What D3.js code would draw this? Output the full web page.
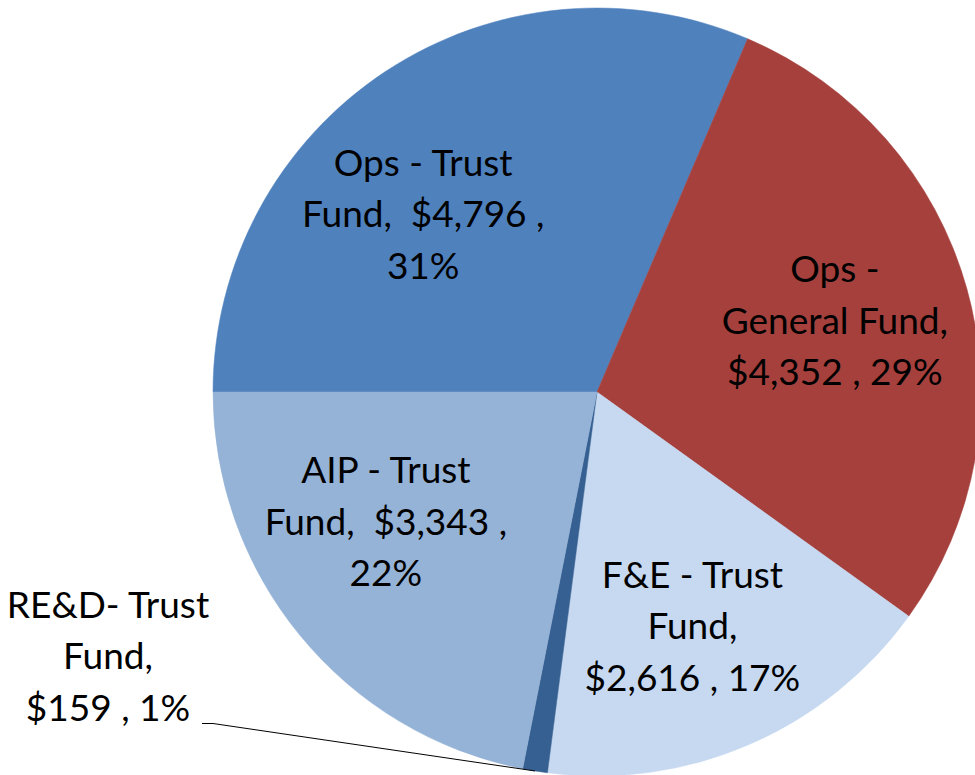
<!DOCTYPE html>
<html>
<head>
<meta charset="utf-8">
<script src="https://cdn.jsdelivr.net/npm/d3@7"></script>
<style>
  html, body { margin: 0; padding: 0; background: #fff; }
  svg { display: block; }
</style>
</head>
<body>
<div id="chart"></div>
<script>
// slices, in the order they go round the pie (clockwise from 9 o'clock)
const categories = ["Ops - Trust Fund", "Ops - General Fund", "F&E - Trust Fund", "RE&D- Trust Fund", "AIP - Trust Fund"];
const values = [4796, 4352, 2616, 159, 3343];
const percents = ["31%", "29%", "17%", "1%", "22%"];
// label lines as they are wrapped in the picture
const labelLines = [
  ["Ops - Trust", "Fund,  $4,796 ,", "31%"],
  ["Ops -", "General Fund,", "$4,352 , 29%"],
  ["F&E - Trust", "Fund,", "$2,616 , 17%"],
  ["RE&D- Trust", "Fund,", "$159 , 1%"],
  ["AIP - Trust", "Fund,  $3,343 ,", "22%"]
];
const colors = ["#4f81bd", "#a5403d", "#c6d9f0", "#376092", "#95b3d7"];

class PieChart {
    constructor({selector, width = 975, height = 775}) {
        this.selector = selector;
        this.width = width;
        this.height = height;
        this.cx = 597;
        this.cy = 392;
        this.radius = 384;
        this.fontSize = 37;
        this.lineHeight = 51.5;
        // where the middle line of each label sits, as distance from centre
        // along the slice's mid angle, plus a nudge
        this.labelRadius = 250;
        this.nudges = [[-36, 44], [-3, 9], [-4, 18], [0, 0], [-18, -16]];
    }
    draw() {
        let self = this;
        this.svg = d3.select(this.selector).append("svg")
            .attr("width", this.width)
            .attr("height", this.height);
        let root = this.svg.append("g")
            .attr("transform", `translate(${this.cx},${this.cy})`);

        let data = categories.map((c, i) => ({name: c, value: values[i], pct: percents[i], lines: labelLines[i], color: colors[i], i: i}));
        let pie = d3.pie()
            .sort(null)
            .value(d => d.value)
            .startAngle(Math.PI * 1.5)
            .endAngle(Math.PI * 3.5);
        let arcs = pie(data);
        let arc = d3.arc().innerRadius(0).outerRadius(this.radius);

        root.append("g").attr("class", "slices")
            .selectAll("path")
            .data(arcs)
            .join("path")
            .attr("d", arc)
            .attr("fill", d => d.data.color)
            .attr("stroke", d => d.data.color)
            .attr("stroke-width", 0.5);

        let midPoint = function(d, r) {
            let a = (d.startAngle + d.endAngle) / 2;
            return [r * Math.sin(a), -r * Math.cos(a)];
        };

        // outside label for the small RE&D slice, with its leader line
        let small = arcs[3];
        let edge = midPoint(small, this.radius);
        let outside = [-489, 277];
        let labelPos = arcs.map((d, i) => {
            if (i === 3) return outside;
            let p = midPoint(d, self.labelRadius);
            return [p[0] + self.nudges[i][0], p[1] + self.nudges[i][1]];
        });

        let elbowY = outside[1] + this.lineHeight + 3;
        root.append("path")
            .attr("class", "leader")
            .attr("d", d3.line()([[outside[0] + 94, elbowY], [outside[0] + 105, elbowY], edge]))
            .attr("fill", "none")
            .attr("stroke", "#000")
            .attr("stroke-width", 1);

        let labels = root.append("g").attr("class", "labels")
            .selectAll("text")
            .data(arcs)
            .join("text")
            .attr("text-anchor", "middle")
            .attr("transform", (d, i) => `translate(${labelPos[i][0]},${labelPos[i][1]})`)
            .style("font-family", "Lato, 'Open Sans', sans-serif")
            .style("font-size", this.fontSize + "px")
            .attr("fill", "#000");
        labels.selectAll("tspan")
            .data(d => d.data.lines)
            .join("tspan")
            .attr("x", 0)
            .attr("y", (l, j) => (j - 1) * self.lineHeight)
            .attr("xml:space", "preserve")
            .style("white-space", "pre")
            .text(l => l);
    }
}

new PieChart({selector: "#chart"}).draw();
</script>
</body>
</html>
